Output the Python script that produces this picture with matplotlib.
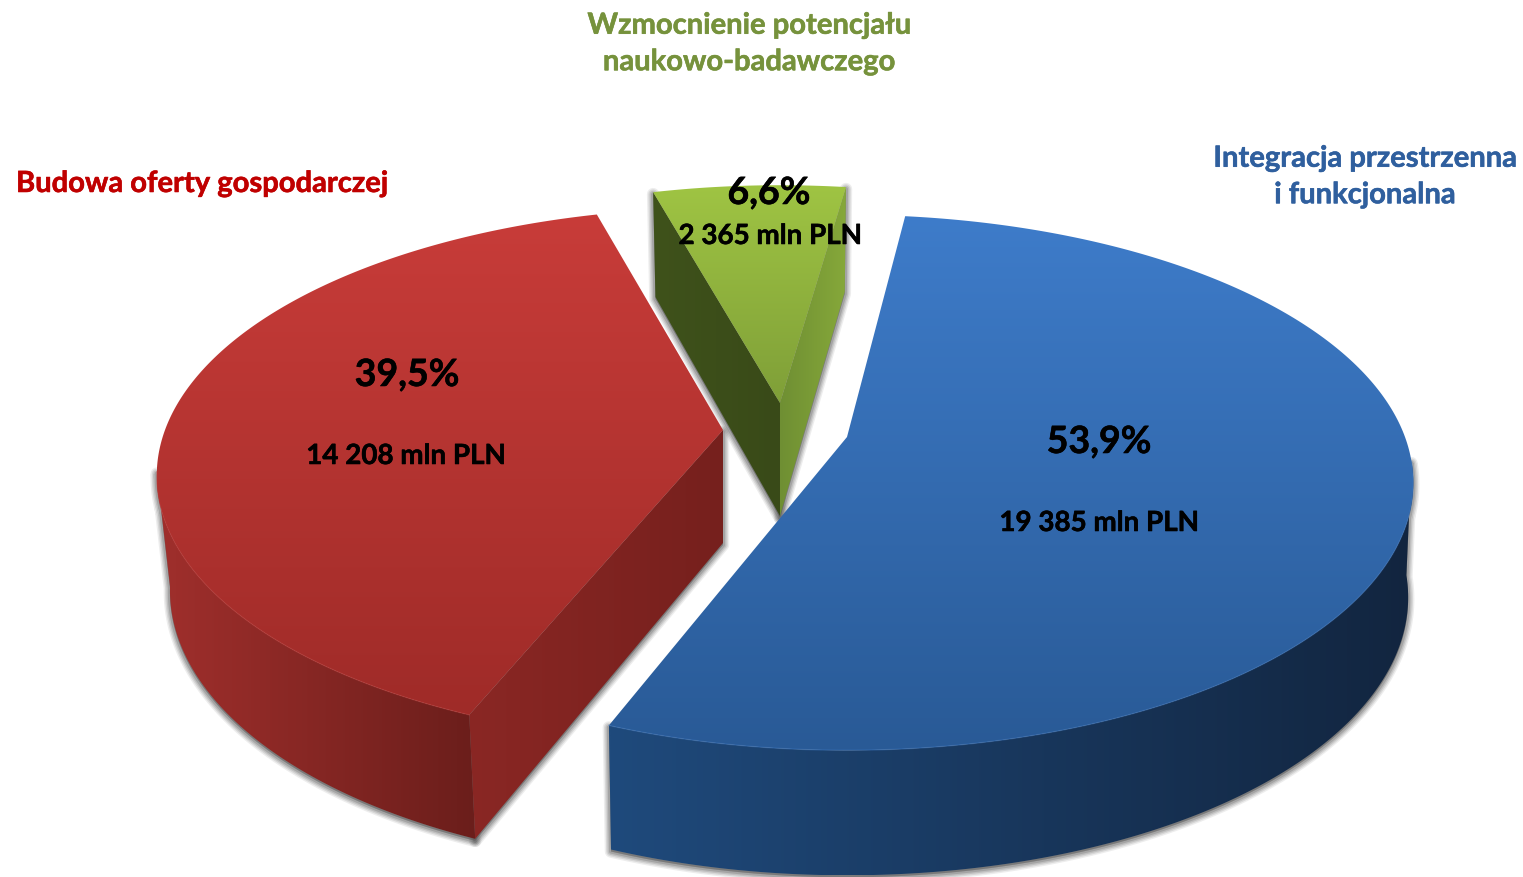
import numpy as np
import matplotlib
matplotlib.use("Agg")
import matplotlib.pyplot as plt
import matplotlib.patheffects as pe
from matplotlib.colors import to_rgb
from matplotlib.patches import Polygon

# values
names = ["Integracja przestrzenna\ni funkcjonalna", "Budowa oferty gospodarczej", "Wzmocnienie potencjału\nnaukowo-badawczego"]
percent = [53.9, 39.5, 6.6]
mln_pln = ["19 385", "14 208", "2 365"]

# look of each slice: apex on screen, small tweaks and colours
apex = [(847, 437), (723, 430), (780, 403)]
angle_shift = [0, -1.5, -1.1]
size = [1, 1, 0.98]
low_r = [553, 545, 548]
top_cols = [("#3e7cca", "#295a96"), ("#c83c39", "#9f2b28"), ("#9fc443", "#7f9f38")]
rim_cols = [("#1f4a7c", "#12253f"), ("#a02f2c", "#6b1e1b")]
cut_cols = [None, ("#8a2724", "#76201d"), ("#3f521b", "#394a18")]
text_cols = ["#2f5f9e", "#c00000", "#76923c"]

# pie seen in perspective
R, H, k = 558, 260, 0.17
H2, depth = 270, 113
start = 83.0

plt.rcParams["font.family"] = ["Lato", "DejaVu Sans"]
fig = plt.figure(figsize=(15.23, 8.77), dpi=100)
ax = fig.add_axes([0, 0, 1, 1])


def top_pt(t, c, s=1):
    t = np.radians(np.atleast_1d(t))
    p = s / (1 + k * np.sin(t))
    return np.column_stack([c[0] + R * np.cos(t) * p, c[1] - H * np.sin(t) * p])


def low_pt(t, c, r2, s=1):
    t = np.radians(np.atleast_1d(t))
    p = s / (1 + k * np.sin(t))
    return np.column_stack([c[0] + r2 * np.cos(t) * p, c[1] + depth - H2 * np.sin(t) * p])


def grad_fill(verts, c0, c1, vertical=True, z=2):
    # gradient image clipped to the polygon
    x0, y0 = verts.min(axis=0)
    x1, y1 = verts.max(axis=0)
    f = np.linspace(0, 1, 256)
    col = np.outer(1 - f, to_rgb(c0)) + np.outer(f, to_rgb(c1))
    img = col[:, None, :] if vertical else col[None, :, :]
    im = ax.imshow(img, extent=[x0, x1, y1, y0], aspect="auto", zorder=z, interpolation="bilinear")
    im.set_clip_path(Polygon(verts, closed=True, transform=ax.transData))


def shadow(verts, z):
    # soft grey glow under a face
    for lw, a in [(9, 0.10), (7, 0.14), (5, 0.18), (3, 0.25)]:
        ax.add_patch(Polygon(verts + [0, 2], closed=True, fc="#555555", ec="#555555", lw=lw, alpha=a, joinstyle="round", zorder=z))


# slice spans come from the shares
spans = [360 * v / 100 for v in percent]
t_hi = [start, start - spans[0], start - spans[0] - spans[1]]

for i in [2, 1, 0]:
    z = 3 + (2 - i) * 3
    c = apex[i]
    s = size[i]
    r2 = low_r[i]
    a = t_hi[i] + angle_shift[i]
    b = a - spans[i]
    ts = np.linspace(a, b, 300)
    rim_top = top_pt(ts, c, s)
    rim_low = low_pt(ts, c, r2, s)
    low_c = [c[0], c[1] + depth]
    top = np.vstack([[c], rim_top])

    if i == 0:
        front = ts < -5
    else:
        front = rim_top[:, 1] > 470

    if i < 2:
        side = np.vstack([rim_top[front], rim_low[front][::-1]])
        shadow(side, z)
    if i == 1:
        cut = np.vstack([[c], top_pt(a, c, s), low_pt(a, c, r2, s), [low_c]])
        shadow(cut, z)
        grad_fill(side[::-1], *rim_cols[i], vertical=False, z=z + 1)
        grad_fill(cut, *cut_cols[i], vertical=False, z=z + 1)
    elif i == 0:
        grad_fill(side, *rim_cols[i], vertical=False, z=z + 1)
    else:
        left = np.vstack([[c], top_pt(a, c, s), low_pt(a, c, r2, s), [low_c]])
        right = np.vstack([[c], top_pt(b, c, s), low_pt(b, c, r2, s), [low_c]])
        shadow(left, z)
        shadow(right, z)
        grad_fill(left, *cut_cols[i], vertical=False, z=z + 1)
        grad_fill(right, "#6f8f33", "#86a83a", vertical=False, z=z + 1)

    grad_fill(top, *top_cols[i], vertical=True, z=z + 2)
    # lighter edge where the top meets the side
    if i < 2:
        ax.plot(rim_top[front][:, 0], rim_top[front][:, 1], color=top_cols[i][0], lw=1.0, alpha=0.35, zorder=z + 2.5)

# labels
bold = [pe.withStroke(linewidth=0.4, foreground="black")]
ax.text(1365, 177, names[0], color=text_cols[0], fontsize=21, fontweight="bold", ha="center", va="center", linespacing=1.5, zorder=20,
        path_effects=[pe.withStroke(linewidth=0.4, foreground=text_cols[0])])
ax.text(202, 184, names[1], color=text_cols[1], fontsize=21, fontweight="bold", ha="center", va="center", zorder=20,
        path_effects=[pe.withStroke(linewidth=0.4, foreground=text_cols[1])])
ax.text(749, 44, names[2], color=text_cols[2], fontsize=21, fontweight="bold", ha="center", va="center", linespacing=1.5, zorder=20,
        path_effects=[pe.withStroke(linewidth=0.4, foreground=text_cols[2])])

pct_pos = [(1099, 442), (407, 375), (769, 193)]
mln_pos = [(1099, 523), (406, 456), (770, 236)]
for i in range(3):
    ax.text(*pct_pos[i], f"{percent[i]:.1f}%".replace(".", ","), color="black", fontsize=27, fontweight="bold", ha="center", va="center", zorder=21, path_effects=bold)
    ax.text(*mln_pos[i], f"{mln_pln[i]} mln PLN", color="black", fontsize=20, fontweight="bold", ha="center", va="center", zorder=21, path_effects=bold)

ax.set_xlim(0, 1523)
ax.set_ylim(877, 0)
ax.axis("off")
fig.savefig("out.png", dpi=100, facecolor="white")
